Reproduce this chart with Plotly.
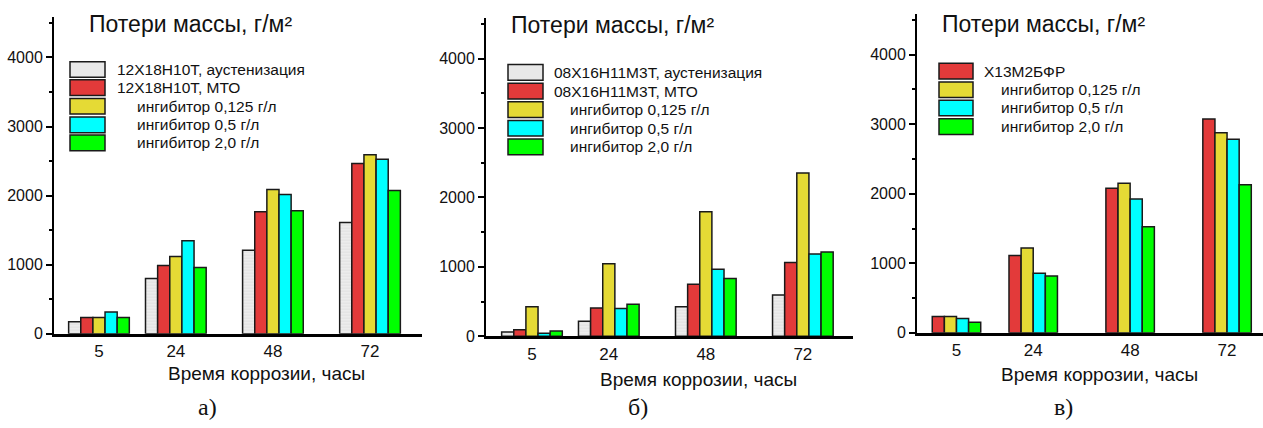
import plotly.graph_objects as go

W, H = 1263, 428

hours = [5, 24, 48, 72]
y_ticks = [0, 1000, 2000, 3000, 4000]

# ---- panel а) 12Х18Н10Т
a_names = ["12Х18Н10Т, аустенизация", "12Х18Н10Т, МТО",
           "ингибитор 0,125 г/л", "ингибитор 0,5 г/л", "ингибитор 2,0 г/л"]
a_aust = [176, 799, 1210, 1610]
a_mto = [237, 987, 1766, 2465]
a_i0125 = [237, 1119, 2088, 2592]
a_i05 = [317, 1346, 2017, 2527]
a_i20 = [237, 959, 1780, 2074]

# ---- panel б) 08Х16Н11М3Т
b_names = ["08Х16Н11М3Т, аустенизация", "08Х16Н11М3Т, МТО",
           "ингибитор 0,125 г/л", "ингибитор 0,5 г/л", "ингибитор 2,0 г/л"]
b_aust = [61, 216, 424, 593]
b_mto = [94, 409, 748, 1064]
b_i0125 = [424, 1045, 1793, 2353]
b_i05 = [42, 400, 965, 1186]
b_i20 = [75, 461, 833, 1214]

# ---- panel в) Х13М2БФР
c_names = ["Х13М2БФР", "ингибитор 0,125 г/л", "ингибитор 0,5 г/л", "ингибитор 2,0 г/л"]
c_base = [236, 1113, 2080, 3075]
c_i0125 = [236, 1222, 2150, 2878]
c_i05 = [207, 858, 1925, 2784]
c_i20 = [151, 816, 1526, 2131]

GRAY, RED, YEL, CYAN, GRN = "#e8e8e8", "#e33a3a", "#e5da35", "#00ffff", "#00ff00"
a_colors = [GRAY, RED, YEL, CYAN, GRN]
b_colors = [GRAY, RED, YEL, CYAN, GRN]
c_colors = [RED, YEL, CYAN, GRN]

FONT = "Arial, 'Liberation Sans', sans-serif"
SERIF = "'Times New Roman', 'Liberation Serif', serif"

panels = [
    dict(key="", series=[a_aust, a_mto, a_i0125, a_i05, a_i20], names=a_names, colors=a_colors,
         px_x=(54, 422), px_y=(17, 341), xr=[-6.12, 84.85],
         title_x=87, title_y=25, xt=(266, 382), sub=("а)", 207, 416),
         leg=dict(x0=70, x1=105, rows=[71, 89.5, 108.5, 127.5, 146], tx=115, tx_ind=135)),
    dict(key="2", series=[b_aust, b_mto, b_i0125, b_i05, b_i20], names=b_names, colors=b_colors,
         px_x=(486, 853), px_y=(18, 343.5), xr=[-6.37, 84.4],
         title_x=509, title_y=26, xt=(698, 388), sub=("б)", 638, 416),
         leg=dict(x0=508, x1=543, rows=[74, 93, 112, 131, 150], tx=552, tx_ind=568)),
    dict(key="3", series=[c_base, c_i0125, c_i05, c_i20], names=c_names, colors=c_colors,
         px_x=(917, 1263), px_y=(14, 340), xr=[-4.78, 80.9],
         title_x=940, title_y=25, xt=(1099, 383), sub=("в)", 1063, 416),
         leg=dict(x0=939, x1=973, rows=[72.7, 91.7, 110.3, 129.3], tx=982, tx_ind=999)),
]

fig = go.Figure()
shapes = []
annotations = []
layout = {}

BAR_W = 3.0
for p in panels:
    k = p["key"]
    n = len(p["series"])
    for i, (vals, name, col) in enumerate(zip(p["series"], p["names"], p["colors"])):
        marker = dict(color=col, line=dict(color="#1a1a1a", width=1.5))
        if col == GRAY:
            marker["pattern"] = dict(shape="-", fgcolor="#d2d2d2", bgcolor="#ececec", size=3, solidity=0.3)
        fig.add_trace(go.Bar(
            x=hours, y=vals, name=name, marker=marker,
            width=BAR_W, offset=-n * BAR_W / 2 + i * BAR_W,
            xaxis="x" + k, yaxis="y" + k, showlegend=False,
        ))
    x0, x1 = p["px_x"]
    yt, yb = p["px_y"]
    layout["xaxis" + k] = dict(
        domain=[x0 / W, x1 / W], anchor="y" + k, range=p["xr"],
        tickmode="array", tickvals=hours, ticktext=[str(h) for h in hours],
        showline=True, linewidth=3, linecolor="black", ticks="",
        showgrid=False, zeroline=False, tickfont=dict(family=FONT, size=17, color="#111"),
        fixedrange=True,
    )
    layout["yaxis" + k] = dict(
        domain=[1 - yb / H, 1 - yt / H], anchor="x" + k, range=[0, 4590],
        tickmode="array", tickvals=y_ticks,
        showline=True, linewidth=2, linecolor="black",
        ticks="outside", ticklen=6, tickwidth=2, tickcolor="black",
        minor=dict(ticks="outside", ticklen=3, tickwidth=1.5, tickcolor="black", dtick=500, showgrid=False),
        showgrid=False, zeroline=False, tickfont=dict(family=FONT, size=16, color="#111"),
        fixedrange=True,
    )
    annotations.append(dict(
        text="Потери массы, г/м²", x=p["title_x"] / W, y=1 - p["title_y"] / H,
        xref="paper", yref="paper", xanchor="left", yanchor="middle", showarrow=False,
        font=dict(family=FONT, size=23, color="#111")))
    annotations.append(dict(
        text="Время коррозии, часы", x=p["xt"][0] / W, y=1 - p["xt"][1] / H,
        xref="paper", yref="paper", xanchor="center", yanchor="middle", showarrow=False,
        font=dict(family=FONT, size=19, color="#111")))
    annotations.append(dict(
        text=p["sub"][0], x=p["sub"][1] / W, y=1 - p["sub"][2] / H,
        xref="paper", yref="paper", xanchor="center", yanchor="middle", showarrow=False,
        font=dict(family=SERIF, size=24, color="#111")))
    lg = p["leg"]
    for j, (name, col, row) in enumerate(zip(p["names"], p["colors"], lg["rows"])):
        shapes.append(dict(type="rect", xref="paper", yref="paper",
                           x0=lg["x0"] / W, x1=lg["x1"] / W,
                           y0=1 - (row + 8) / H, y1=1 - (row - 8) / H,
                           fillcolor=col, line=dict(color="#1a1a1a", width=1.5)))
        indented = name.startswith("ингибитор")
        annotations.append(dict(
            text=name, x=(lg["tx_ind"] if indented else lg["tx"]) / W, y=1 - row / H,
            xref="paper", yref="paper", xanchor="left", yanchor="middle", showarrow=False,
            font=dict(family=FONT, size=15.5, color="#111")))

fig.update_layout(
    width=W, height=H, margin=dict(l=0, r=0, t=0, b=0),
    paper_bgcolor="white", plot_bgcolor="white",
    barmode="overlay", showlegend=False,
    shapes=shapes, annotations=annotations,
    font=dict(family=FONT, color="#111"),
    **layout,
)

fig.write_html("out.html")
